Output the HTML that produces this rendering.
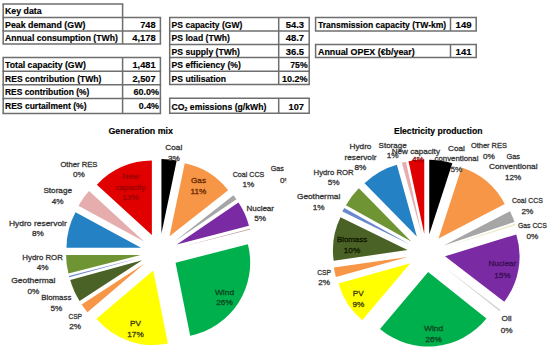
<!DOCTYPE html>
<html><head><meta charset="utf-8"><style>
html,body{margin:0;padding:0;background:#fff;width:550px;height:351px;overflow:hidden}
svg{display:block}
text{font-family:"Liberation Sans",sans-serif}
</style></head><body>
<svg width="550" height="351" viewBox="0 0 550 351" font-family="Liberation Sans, sans-serif">
<rect width="550" height="351" fill="#fff"/>
<line x1="2.45" y1="4.0" x2="123.35" y2="4.0" stroke="#6e6e6e" stroke-width="1.5"/>
<line x1="2.45" y1="17.4" x2="161.15" y2="17.4" stroke="#6e6e6e" stroke-width="1.5"/>
<line x1="2.45" y1="30.9" x2="161.15" y2="30.9" stroke="#6e6e6e" stroke-width="1.5"/>
<line x1="2.45" y1="44.1" x2="161.15" y2="44.1" stroke="#6e6e6e" stroke-width="1.5"/>
<line x1="3.2" y1="4.0" x2="3.2" y2="44.1" stroke="#6e6e6e" stroke-width="1.5"/>
<line x1="122.6" y1="4.0" x2="122.6" y2="44.1" stroke="#6e6e6e" stroke-width="1.5"/>
<line x1="160.4" y1="17.4" x2="160.4" y2="44.1" stroke="#6e6e6e" stroke-width="1.5"/>
<text x="5.0" y="14.00" font-size="8.40" font-weight="bold" text-anchor="start" fill="#000" textLength="36.60" lengthAdjust="spacingAndGlyphs" stroke="#000" stroke-width="0.15">Key data</text>
<text x="5.0" y="28.00" font-size="8.40" font-weight="bold" text-anchor="start" fill="#000" textLength="80.40" lengthAdjust="spacingAndGlyphs" stroke="#000" stroke-width="0.15">Peak demand (GW)</text>
<text x="5.0" y="41.40" font-size="8.40" font-weight="bold" text-anchor="start" fill="#000" textLength="112.80" lengthAdjust="spacingAndGlyphs" stroke="#000" stroke-width="0.15">Annual consumption (TWh)</text>
<text x="155.6" y="28.00" font-size="8.40" font-weight="bold" text-anchor="end" fill="#000" textLength="15.40" lengthAdjust="spacingAndGlyphs" stroke="#000" stroke-width="0.15">748</text>
<text x="155.6" y="41.40" font-size="8.40" font-weight="bold" text-anchor="end" fill="#000" textLength="23.40" lengthAdjust="spacingAndGlyphs" stroke="#000" stroke-width="0.15">4,178</text>
<line x1="2.45" y1="57.6" x2="161.15" y2="57.6" stroke="#6e6e6e" stroke-width="1.5"/>
<line x1="2.45" y1="71.3" x2="161.15" y2="71.3" stroke="#6e6e6e" stroke-width="1.5"/>
<line x1="2.45" y1="84.7" x2="161.15" y2="84.7" stroke="#6e6e6e" stroke-width="1.5"/>
<line x1="2.45" y1="98.4" x2="161.15" y2="98.4" stroke="#6e6e6e" stroke-width="1.5"/>
<line x1="2.45" y1="113.4" x2="161.15" y2="113.4" stroke="#6e6e6e" stroke-width="1.5"/>
<line x1="3.2" y1="57.6" x2="3.2" y2="113.4" stroke="#6e6e6e" stroke-width="1.5"/>
<line x1="122.6" y1="57.6" x2="122.6" y2="113.4" stroke="#6e6e6e" stroke-width="1.5"/>
<line x1="160.4" y1="57.6" x2="160.4" y2="113.4" stroke="#6e6e6e" stroke-width="1.5"/>
<text x="5.0" y="68.30" font-size="8.40" font-weight="bold" text-anchor="start" fill="#000" textLength="80.80" lengthAdjust="spacingAndGlyphs" stroke="#000" stroke-width="0.15">Total capacity (GW)</text>
<text x="5.0" y="81.60" font-size="8.40" font-weight="bold" text-anchor="start" fill="#000" textLength="96.40" lengthAdjust="spacingAndGlyphs" stroke="#000" stroke-width="0.15">RES contribution (TWh)</text>
<text x="5.0" y="95.20" font-size="8.40" font-weight="bold" text-anchor="start" fill="#000" textLength="84.30" lengthAdjust="spacingAndGlyphs" stroke="#000" stroke-width="0.15">RES contribution (%)</text>
<text x="5.0" y="109.30" font-size="8.40" font-weight="bold" text-anchor="start" fill="#000" textLength="81.50" lengthAdjust="spacingAndGlyphs" stroke="#000" stroke-width="0.15">RES curtailment (%)</text>
<text x="155.5" y="68.30" font-size="8.40" font-weight="bold" text-anchor="end" fill="#000" textLength="23.00" lengthAdjust="spacingAndGlyphs" stroke="#000" stroke-width="0.15">1,481</text>
<text x="155.5" y="81.60" font-size="8.40" font-weight="bold" text-anchor="end" fill="#000" textLength="23.00" lengthAdjust="spacingAndGlyphs" stroke="#000" stroke-width="0.15">2,507</text>
<text x="159.0" y="95.20" font-size="8.40" font-weight="bold" text-anchor="end" fill="#000" textLength="25.50" lengthAdjust="spacingAndGlyphs" stroke="#000" stroke-width="0.15">60.0%</text>
<text x="159.0" y="109.30" font-size="8.40" font-weight="bold" text-anchor="end" fill="#000" textLength="20.20" lengthAdjust="spacingAndGlyphs" stroke="#000" stroke-width="0.15">0.4%</text>
<line x1="168.95" y1="17.5" x2="309.95" y2="17.5" stroke="#6e6e6e" stroke-width="1.5"/>
<line x1="168.95" y1="30.9" x2="309.95" y2="30.9" stroke="#6e6e6e" stroke-width="1.5"/>
<line x1="168.95" y1="44.4" x2="309.95" y2="44.4" stroke="#6e6e6e" stroke-width="1.5"/>
<line x1="168.95" y1="57.6" x2="309.95" y2="57.6" stroke="#6e6e6e" stroke-width="1.5"/>
<line x1="168.95" y1="71.2" x2="309.95" y2="71.2" stroke="#6e6e6e" stroke-width="1.5"/>
<line x1="168.95" y1="84.6" x2="309.95" y2="84.6" stroke="#6e6e6e" stroke-width="1.5"/>
<line x1="169.7" y1="17.5" x2="169.7" y2="84.6" stroke="#6e6e6e" stroke-width="1.5"/>
<line x1="278.7" y1="17.5" x2="278.7" y2="84.6" stroke="#6e6e6e" stroke-width="1.5"/>
<line x1="309.2" y1="17.5" x2="309.2" y2="84.6" stroke="#6e6e6e" stroke-width="1.5"/>
<text x="171.6" y="28.10" font-size="8.40" font-weight="bold" text-anchor="start" fill="#000" textLength="70.80" lengthAdjust="spacingAndGlyphs" stroke="#000" stroke-width="0.15">PS capacity (GW)</text>
<text x="171.6" y="41.30" font-size="8.40" font-weight="bold" text-anchor="start" fill="#000" textLength="58.28" lengthAdjust="spacingAndGlyphs" stroke="#000" stroke-width="0.15">PS load (TWh)</text>
<text x="171.6" y="54.70" font-size="8.40" font-weight="bold" text-anchor="start" fill="#000" textLength="68.31" lengthAdjust="spacingAndGlyphs" stroke="#000" stroke-width="0.15">PS supply (TWh)</text>
<text x="171.6" y="68.30" font-size="8.40" font-weight="bold" text-anchor="start" fill="#000" textLength="69.30" lengthAdjust="spacingAndGlyphs" stroke="#000" stroke-width="0.15">PS efficiency (%)</text>
<text x="171.6" y="81.70" font-size="8.40" font-weight="bold" text-anchor="start" fill="#000" textLength="54.47" lengthAdjust="spacingAndGlyphs" stroke="#000" stroke-width="0.15">PS utilisation</text>
<text x="304.0" y="28.10" font-size="8.40" font-weight="bold" text-anchor="end" fill="#000" textLength="18.30" lengthAdjust="spacingAndGlyphs" stroke="#000" stroke-width="0.15">54.3</text>
<text x="304.0" y="41.30" font-size="8.40" font-weight="bold" text-anchor="end" fill="#000" textLength="18.30" lengthAdjust="spacingAndGlyphs" stroke="#000" stroke-width="0.15">48.7</text>
<text x="304.0" y="54.70" font-size="8.40" font-weight="bold" text-anchor="end" fill="#000" textLength="18.30" lengthAdjust="spacingAndGlyphs" stroke="#000" stroke-width="0.15">36.5</text>
<text x="307.6" y="68.30" font-size="8.40" font-weight="bold" text-anchor="end" fill="#000" textLength="17.30" lengthAdjust="spacingAndGlyphs" stroke="#000" stroke-width="0.15">75%</text>
<text x="307.6" y="81.70" font-size="8.40" font-weight="bold" text-anchor="end" fill="#000" textLength="25.70" lengthAdjust="spacingAndGlyphs" stroke="#000" stroke-width="0.15">10.2%</text>
<line x1="168.95" y1="98.3" x2="309.95" y2="98.3" stroke="#6e6e6e" stroke-width="1.5"/>
<line x1="168.95" y1="113.3" x2="309.95" y2="113.3" stroke="#6e6e6e" stroke-width="1.5"/>
<line x1="169.7" y1="98.3" x2="169.7" y2="113.3" stroke="#6e6e6e" stroke-width="1.5"/>
<line x1="278.7" y1="98.3" x2="278.7" y2="113.3" stroke="#6e6e6e" stroke-width="1.5"/>
<line x1="309.2" y1="98.3" x2="309.2" y2="113.3" stroke="#6e6e6e" stroke-width="1.5"/>
<text x="171.6" y="109.5" font-size="8.4" font-weight="bold" fill="#000" stroke="#000" stroke-width="0.15" textLength="94.8" lengthAdjust="spacingAndGlyphs">CO<tspan font-size="5.0" dy="1.5">2</tspan><tspan dy="-1.5"> emissions (g/kWh)</tspan></text>
<text x="304.0" y="109.50" font-size="8.40" font-weight="bold" text-anchor="end" fill="#000" textLength="15.40" lengthAdjust="spacingAndGlyphs" stroke="#000" stroke-width="0.15">107</text>
<line x1="314.85" y1="17.5" x2="476.95" y2="17.5" stroke="#6e6e6e" stroke-width="1.5"/>
<line x1="314.85" y1="30.9" x2="476.95" y2="30.9" stroke="#6e6e6e" stroke-width="1.5"/>
<line x1="315.6" y1="17.5" x2="315.6" y2="30.9" stroke="#6e6e6e" stroke-width="1.5"/>
<line x1="450.5" y1="17.5" x2="450.5" y2="30.9" stroke="#6e6e6e" stroke-width="1.5"/>
<line x1="476.2" y1="17.5" x2="476.2" y2="30.9" stroke="#6e6e6e" stroke-width="1.5"/>
<line x1="314.85" y1="44.5" x2="476.95" y2="44.5" stroke="#6e6e6e" stroke-width="1.5"/>
<line x1="314.85" y1="57.6" x2="476.95" y2="57.6" stroke="#6e6e6e" stroke-width="1.5"/>
<line x1="315.6" y1="44.5" x2="315.6" y2="57.6" stroke="#6e6e6e" stroke-width="1.5"/>
<line x1="450.5" y1="44.5" x2="450.5" y2="57.6" stroke="#6e6e6e" stroke-width="1.5"/>
<line x1="476.2" y1="44.5" x2="476.2" y2="57.6" stroke="#6e6e6e" stroke-width="1.5"/>
<text x="318.0" y="28.10" font-size="8.40" font-weight="bold" text-anchor="start" fill="#000" textLength="128.20" lengthAdjust="spacingAndGlyphs" stroke="#000" stroke-width="0.15">Transmission capacity (TW-km)</text>
<text x="318.0" y="54.60" font-size="8.40" font-weight="bold" text-anchor="start" fill="#000" textLength="96.70" lengthAdjust="spacingAndGlyphs" stroke="#000" stroke-width="0.15">Annual OPEX (€b/year)</text>
<text x="471.6" y="28.10" font-size="8.40" font-weight="bold" text-anchor="end" fill="#000" textLength="16.00" lengthAdjust="spacingAndGlyphs" stroke="#000" stroke-width="0.15">149</text>
<text x="471.6" y="54.60" font-size="8.40" font-weight="bold" text-anchor="end" fill="#000" textLength="16.00" lengthAdjust="spacingAndGlyphs" stroke="#000" stroke-width="0.15">141</text>
<path d="M161.45,233.60 L161.45,159.00 A74.6,74.6 0 0 1 176.71,160.58 Z" fill="#000000"/>
<path d="M169.51,236.35 L184.77,163.33 A74.6,74.6 0 0 1 228.14,190.22 Z" fill="#F79646"/>
<path d="M174.82,241.27 L233.45,195.13 A74.6,74.6 0 0 1 236.45,199.23 Z" fill="#A6A6A6"/>
<path d="M176.79,244.62 L238.42,202.58 A74.6,74.6 0 0 1 248.95,225.69 Z" fill="#7A2BA3"/>
<path d="M177.90,247.76 L250.06,228.83 A74.6,74.6 0 0 1 250.22,229.46 Z" fill="#B09090"/>
<path d="M175.57,262.64 L247.89,244.34 A74.6,74.6 0 0 1 190.19,335.79 Z" fill="#00B04C"/>
<path d="M153.27,270.45 L167.88,343.60 A74.6,74.6 0 0 1 96.46,318.80 Z" fill="#FFFF00"/>
<path d="M144.27,263.85 L87.46,312.20 A74.6,74.6 0 0 1 81.70,304.48 Z" fill="#F79646"/>
<path d="M142.17,260.29 L79.60,300.92 A74.6,74.6 0 0 1 70.25,280.10 Z" fill="#4A6225"/>
<path d="M141.14,257.39 L69.22,277.20 A74.6,74.6 0 0 1 68.88,275.94 Z" fill="#6A88CC"/>
<path d="M140.65,254.88 L68.39,273.43 A74.6,74.6 0 0 1 66.05,254.88 Z" fill="#6F9434"/>
<path d="M141.08,247.82 L66.48,247.82 A74.6,74.6 0 0 1 75.52,212.23 Z" fill="#2481C4"/>
<path d="M144.03,241.47 L78.47,205.87 A74.6,74.6 0 0 1 89.03,191.07 Z" fill="#E5ADAD"/>
<path d="M151.85,235.11 L96.85,184.71 A74.6,74.6 0 0 1 151.85,160.51 Z" fill="#E00000"/>
<path d="M429.27,234.23 L429.27,159.63 A74.6,74.6 0 0 1 452.32,163.29 Z" fill="#000000"/>
<path d="M438.58,238.50 L461.63,167.55 A74.6,74.6 0 0 1 504.75,204.05 Z" fill="#F79646"/>
<path d="M443.79,245.58 L509.96,211.13 A74.6,74.6 0 0 1 514.53,221.91 Z" fill="#A6A6A6"/>
<path d="M444.39,247.19 L515.14,223.52 A74.6,74.6 0 0 1 515.69,225.26 Z" fill="#EEEACC"/>
<path d="M445.00,256.35 L516.30,234.41 A74.6,74.6 0 0 1 504.27,301.66 Z" fill="#7A2BA3"/>
<path d="M441.27,264.70 L500.54,310.01 A74.6,74.6 0 0 1 499.57,311.24 Z" fill="#D8D0D0"/>
<path d="M428.15,271.91 L486.46,318.45 A74.6,74.6 0 0 1 380.00,328.89 Z" fill="#00B04C"/>
<path d="M410.32,263.28 L362.17,320.26 A74.6,74.6 0 0 1 338.50,283.47 Z" fill="#FFFF00"/>
<path d="M407.71,256.93 L335.89,277.12 A74.6,74.6 0 0 1 333.87,267.57 Z" fill="#F79646"/>
<path d="M407.53,250.06 L333.69,260.70 A74.6,74.6 0 0 1 340.48,217.36 Z" fill="#4A6225"/>
<path d="M409.45,244.23 L342.40,211.52 A74.6,74.6 0 0 1 344.20,208.06 Z" fill="#6A88CC"/>
<path d="M411.18,241.50 L345.93,205.33 A74.6,74.6 0 0 1 358.89,188.29 Z" fill="#6F9434"/>
<path d="M416.80,236.55 L364.51,183.34 A74.6,74.6 0 0 1 396.86,164.66 Z" fill="#2481C4"/>
<path d="M421.75,234.55 L401.82,162.67 A74.6,74.6 0 0 1 405.99,161.64 Z" fill="#E5ADAD"/>
<path d="M424.28,234.11 L408.52,161.19 A74.6,74.6 0 0 1 424.28,159.51 Z" fill="#E00000"/>
<text x="140.7" y="133.90" font-size="8.60" font-weight="bold" text-anchor="middle" fill="#000" textLength="64.50" lengthAdjust="spacingAndGlyphs" stroke="#000" stroke-width="0.15">Generation mix</text>
<text x="438.2" y="133.90" font-size="8.60" font-weight="bold" text-anchor="middle" fill="#000" textLength="88.50" lengthAdjust="spacingAndGlyphs" stroke="#000" stroke-width="0.15">Electricity production</text>
<text x="78.9" y="166.60" font-size="8.00" font-weight="normal" text-anchor="middle" fill="#363636" textLength="37.00" lengthAdjust="spacingAndGlyphs" stroke="#363636" stroke-width="0.3">Other RES</text>
<text x="78.9" y="177.40" font-size="8.00" font-weight="normal" text-anchor="middle" fill="#363636" textLength="11.85" lengthAdjust="spacingAndGlyphs" stroke="#363636" stroke-width="0.3">0%</text>
<text x="130.5" y="179.00" font-size="8.00" font-weight="normal" text-anchor="middle" fill="#A00000" textLength="16.40" lengthAdjust="spacingAndGlyphs" stroke="#A00000" stroke-width="0.3">New</text>
<text x="130.5" y="189.60" font-size="8.00" font-weight="normal" text-anchor="middle" fill="#A00000" textLength="30.08" lengthAdjust="spacingAndGlyphs" stroke="#A00000" stroke-width="0.3">capacity</text>
<text x="130.5" y="200.20" font-size="8.00" font-weight="normal" text-anchor="middle" fill="#A00000" textLength="16.41" lengthAdjust="spacingAndGlyphs" stroke="#A00000" stroke-width="0.3">13%</text>
<text x="173.8" y="150.40" font-size="8.00" font-weight="normal" text-anchor="middle" fill="#363636" textLength="16.86" lengthAdjust="spacingAndGlyphs" stroke="#363636" stroke-width="0.3">Coal</text>
<text x="173.8" y="161.20" font-size="8.00" font-weight="normal" text-anchor="middle" fill="#363636" textLength="11.85" lengthAdjust="spacingAndGlyphs" stroke="#363636" stroke-width="0.3">3%</text>
<text x="198.5" y="182.80" font-size="8.00" font-weight="normal" text-anchor="middle" fill="#6B2A00" textLength="15.04" lengthAdjust="spacingAndGlyphs" stroke="#6B2A00" stroke-width="0.3">Gas</text>
<text x="198.5" y="193.50" font-size="8.00" font-weight="normal" text-anchor="middle" fill="#6B2A00" textLength="15.80" lengthAdjust="spacingAndGlyphs" stroke="#6B2A00" stroke-width="0.3">11%</text>
<text x="248.5" y="176.60" font-size="8.00" font-weight="normal" text-anchor="middle" fill="#363636" textLength="31.60" lengthAdjust="spacingAndGlyphs" stroke="#363636" stroke-width="0.3">Coal CCS</text>
<text x="248.5" y="187.40" font-size="8.00" font-weight="normal" text-anchor="middle" fill="#363636" textLength="11.85" lengthAdjust="spacingAndGlyphs" stroke="#363636" stroke-width="0.3">1%</text>
<text x="277.3" y="171.40" font-size="8.00" font-weight="normal" text-anchor="middle" fill="#363636" textLength="13.20" lengthAdjust="spacingAndGlyphs" stroke="#363636" stroke-width="0.3">Gas</text>
<clipPath id="cg"><rect x="0" y="0" width="286.3" height="351"/></clipPath>
<text x="280.0" y="183.00" font-size="8.00" font-weight="normal" text-anchor="start" fill="#363636" textLength="11.85" lengthAdjust="spacingAndGlyphs" clip-path="url(#cg)" stroke="#363636" stroke-width="0.3">0%</text>
<text x="260.2" y="210.50" font-size="8.00" font-weight="normal" text-anchor="middle" fill="#363636" textLength="27.60" lengthAdjust="spacingAndGlyphs" stroke="#363636" stroke-width="0.3">Nuclear</text>
<text x="260.2" y="221.30" font-size="8.00" font-weight="normal" text-anchor="middle" fill="#363636" textLength="11.85" lengthAdjust="spacingAndGlyphs" stroke="#363636" stroke-width="0.3">5%</text>
<text x="57.7" y="192.90" font-size="8.00" font-weight="normal" text-anchor="middle" fill="#363636" textLength="28.60" lengthAdjust="spacingAndGlyphs" stroke="#363636" stroke-width="0.3">Storage</text>
<text x="57.7" y="203.70" font-size="8.00" font-weight="normal" text-anchor="middle" fill="#363636" textLength="11.85" lengthAdjust="spacingAndGlyphs" stroke="#363636" stroke-width="0.3">4%</text>
<text x="37.9" y="225.60" font-size="8.00" font-weight="normal" text-anchor="middle" fill="#363636" textLength="57.80" lengthAdjust="spacingAndGlyphs" stroke="#363636" stroke-width="0.3">Hydro reservoir</text>
<text x="37.9" y="236.40" font-size="8.00" font-weight="normal" text-anchor="middle" fill="#363636" textLength="11.85" lengthAdjust="spacingAndGlyphs" stroke="#363636" stroke-width="0.3">8%</text>
<text x="42.6" y="259.60" font-size="8.00" font-weight="normal" text-anchor="middle" fill="#363636" textLength="40.60" lengthAdjust="spacingAndGlyphs" stroke="#363636" stroke-width="0.3">Hydro ROR</text>
<text x="42.6" y="270.40" font-size="8.00" font-weight="normal" text-anchor="middle" fill="#363636" textLength="11.85" lengthAdjust="spacingAndGlyphs" stroke="#363636" stroke-width="0.3">4%</text>
<text x="33.3" y="282.90" font-size="8.00" font-weight="normal" text-anchor="middle" fill="#363636" textLength="44.30" lengthAdjust="spacingAndGlyphs" stroke="#363636" stroke-width="0.3">Geothermal</text>
<text x="33.3" y="293.70" font-size="8.00" font-weight="normal" text-anchor="middle" fill="#363636" textLength="11.85" lengthAdjust="spacingAndGlyphs" stroke="#363636" stroke-width="0.3">0%</text>
<text x="56.3" y="300.40" font-size="8.00" font-weight="normal" text-anchor="middle" fill="#363636" textLength="30.20" lengthAdjust="spacingAndGlyphs" stroke="#363636" stroke-width="0.3">Biomass</text>
<text x="56.3" y="311.20" font-size="8.00" font-weight="normal" text-anchor="middle" fill="#363636" textLength="11.85" lengthAdjust="spacingAndGlyphs" stroke="#363636" stroke-width="0.3">5%</text>
<text x="75.2" y="318.50" font-size="8.00" font-weight="normal" text-anchor="middle" fill="#363636" textLength="13.60" lengthAdjust="spacingAndGlyphs" stroke="#363636" stroke-width="0.3">CSP</text>
<text x="75.2" y="329.30" font-size="8.00" font-weight="normal" text-anchor="middle" fill="#363636" textLength="11.85" lengthAdjust="spacingAndGlyphs" stroke="#363636" stroke-width="0.3">2%</text>
<text x="135.5" y="326.40" font-size="8.00" font-weight="normal" text-anchor="middle" fill="#404000" textLength="10.94" lengthAdjust="spacingAndGlyphs" stroke="#404000" stroke-width="0.3">PV</text>
<text x="135.5" y="337.20" font-size="8.00" font-weight="normal" text-anchor="middle" fill="#404000" textLength="16.41" lengthAdjust="spacingAndGlyphs" stroke="#404000" stroke-width="0.3">17%</text>
<text x="224.5" y="294.60" font-size="8.00" font-weight="normal" text-anchor="middle" fill="#0A4A20" textLength="19.20" lengthAdjust="spacingAndGlyphs" stroke="#0A4A20" stroke-width="0.3">Wind</text>
<text x="224.5" y="305.40" font-size="8.00" font-weight="normal" text-anchor="middle" fill="#0A4A20" textLength="16.41" lengthAdjust="spacingAndGlyphs" stroke="#0A4A20" stroke-width="0.3">26%</text>
<text x="360.5" y="149.10" font-size="8.00" font-weight="normal" text-anchor="middle" fill="#363636" textLength="21.87" lengthAdjust="spacingAndGlyphs" stroke="#363636" stroke-width="0.3">Hydro</text>
<text x="360.5" y="159.60" font-size="8.00" font-weight="normal" text-anchor="middle" fill="#363636" textLength="31.89" lengthAdjust="spacingAndGlyphs" stroke="#363636" stroke-width="0.3">reservoir</text>
<text x="360.5" y="170.10" font-size="8.00" font-weight="normal" text-anchor="middle" fill="#363636" textLength="11.85" lengthAdjust="spacingAndGlyphs" stroke="#363636" stroke-width="0.3">8%</text>
<text x="392.6" y="147.80" font-size="8.00" font-weight="normal" text-anchor="middle" fill="#363636" textLength="28.00" lengthAdjust="spacingAndGlyphs" stroke="#363636" stroke-width="0.3">Storage</text>
<text x="392.6" y="158.30" font-size="8.00" font-weight="normal" text-anchor="middle" fill="#363636" textLength="11.85" lengthAdjust="spacingAndGlyphs" stroke="#363636" stroke-width="0.3">1%</text>
<text x="415.8" y="153.60" font-size="8.00" font-weight="normal" text-anchor="middle" fill="#363636" textLength="48.30" lengthAdjust="spacingAndGlyphs" stroke="#363636" stroke-width="0.3">New capacity</text>
<text x="418.0" y="162.00" font-size="8.00" font-weight="normal" text-anchor="middle" fill="#900000" textLength="11.85" lengthAdjust="spacingAndGlyphs" stroke="#900000" stroke-width="0.3">4%</text>
<text x="456.5" y="150.80" font-size="8.00" font-weight="normal" text-anchor="middle" fill="#363636" textLength="16.86" lengthAdjust="spacingAndGlyphs" stroke="#363636" stroke-width="0.3">Coal</text>
<text x="456.5" y="161.10" font-size="8.00" font-weight="normal" text-anchor="middle" fill="#363636" textLength="43.80" lengthAdjust="spacingAndGlyphs" stroke="#363636" stroke-width="0.3">conventional</text>
<text x="456.3" y="171.60" font-size="8.00" font-weight="normal" text-anchor="middle" fill="#404040" textLength="11.85" lengthAdjust="spacingAndGlyphs" stroke="#404040" stroke-width="0.3">5%</text>
<text x="488.9" y="148.20" font-size="8.00" font-weight="normal" text-anchor="middle" fill="#363636" textLength="36.00" lengthAdjust="spacingAndGlyphs" stroke="#363636" stroke-width="0.3">Other RES</text>
<text x="488.9" y="159.10" font-size="8.00" font-weight="normal" text-anchor="middle" fill="#363636" textLength="11.85" lengthAdjust="spacingAndGlyphs" stroke="#363636" stroke-width="0.3">0%</text>
<text x="513.2" y="158.50" font-size="8.00" font-weight="normal" text-anchor="middle" fill="#363636" textLength="13.60" lengthAdjust="spacingAndGlyphs" stroke="#363636" stroke-width="0.3">Gas</text>
<text x="513.2" y="169.30" font-size="8.00" font-weight="normal" text-anchor="middle" fill="#363636" textLength="48.60" lengthAdjust="spacingAndGlyphs" stroke="#363636" stroke-width="0.3">Conventional</text>
<text x="513.2" y="180.10" font-size="8.00" font-weight="normal" text-anchor="middle" fill="#363636" textLength="16.41" lengthAdjust="spacingAndGlyphs" stroke="#363636" stroke-width="0.3">12%</text>
<text x="527.4" y="202.60" font-size="8.00" font-weight="normal" text-anchor="middle" fill="#363636" textLength="30.80" lengthAdjust="spacingAndGlyphs" stroke="#363636" stroke-width="0.3">Coal CCS</text>
<text x="527.4" y="213.60" font-size="8.00" font-weight="normal" text-anchor="middle" fill="#363636" textLength="11.85" lengthAdjust="spacingAndGlyphs" stroke="#363636" stroke-width="0.3">2%</text>
<text x="532.4" y="227.70" font-size="8.00" font-weight="normal" text-anchor="middle" fill="#363636" textLength="29.00" lengthAdjust="spacingAndGlyphs" stroke="#363636" stroke-width="0.3">Gas CCS</text>
<text x="532.4" y="238.60" font-size="8.00" font-weight="normal" text-anchor="middle" fill="#363636" textLength="11.85" lengthAdjust="spacingAndGlyphs" stroke="#363636" stroke-width="0.3">0%</text>
<text x="502.4" y="266.20" font-size="8.00" font-weight="normal" text-anchor="middle" fill="#3A0F55" textLength="27.80" lengthAdjust="spacingAndGlyphs" stroke="#3A0F55" stroke-width="0.3">Nuclear</text>
<text x="502.4" y="277.50" font-size="8.00" font-weight="normal" text-anchor="middle" fill="#3A0F55" textLength="16.41" lengthAdjust="spacingAndGlyphs" stroke="#3A0F55" stroke-width="0.3">15%</text>
<text x="506.6" y="321.20" font-size="8.00" font-weight="normal" text-anchor="middle" fill="#363636" textLength="10.02" lengthAdjust="spacingAndGlyphs" stroke="#363636" stroke-width="0.3">Oil</text>
<text x="506.6" y="332.50" font-size="8.00" font-weight="normal" text-anchor="middle" fill="#363636" textLength="11.85" lengthAdjust="spacingAndGlyphs" stroke="#363636" stroke-width="0.3">0%</text>
<text x="433.6" y="330.80" font-size="8.00" font-weight="normal" text-anchor="middle" fill="#0A4A20" textLength="19.20" lengthAdjust="spacingAndGlyphs" stroke="#0A4A20" stroke-width="0.3">Wind</text>
<text x="433.6" y="341.50" font-size="8.00" font-weight="normal" text-anchor="middle" fill="#0A4A20" textLength="16.41" lengthAdjust="spacingAndGlyphs" stroke="#0A4A20" stroke-width="0.3">26%</text>
<text x="358.3" y="295.50" font-size="8.00" font-weight="normal" text-anchor="middle" fill="#404000" textLength="10.94" lengthAdjust="spacingAndGlyphs" stroke="#404000" stroke-width="0.3">PV</text>
<text x="358.3" y="306.80" font-size="8.00" font-weight="normal" text-anchor="middle" fill="#404000" textLength="11.85" lengthAdjust="spacingAndGlyphs" stroke="#404000" stroke-width="0.3">9%</text>
<text x="324.1" y="274.70" font-size="8.00" font-weight="normal" text-anchor="middle" fill="#363636" textLength="13.80" lengthAdjust="spacingAndGlyphs" stroke="#363636" stroke-width="0.3">CSP</text>
<text x="324.1" y="285.10" font-size="8.00" font-weight="normal" text-anchor="middle" fill="#363636" textLength="11.85" lengthAdjust="spacingAndGlyphs" stroke="#363636" stroke-width="0.3">2%</text>
<text x="352.0" y="242.20" font-size="8.00" font-weight="normal" text-anchor="middle" fill="#101800" textLength="30.20" lengthAdjust="spacingAndGlyphs" stroke="#101800" stroke-width="0.3">Biomass</text>
<text x="352.0" y="252.80" font-size="8.00" font-weight="normal" text-anchor="middle" fill="#101800" textLength="16.41" lengthAdjust="spacingAndGlyphs" stroke="#101800" stroke-width="0.3">10%</text>
<text x="318.6" y="198.50" font-size="8.00" font-weight="normal" text-anchor="middle" fill="#363636" textLength="43.30" lengthAdjust="spacingAndGlyphs" stroke="#363636" stroke-width="0.3">Geothermal</text>
<text x="318.6" y="209.50" font-size="8.00" font-weight="normal" text-anchor="middle" fill="#363636" textLength="11.85" lengthAdjust="spacingAndGlyphs" stroke="#363636" stroke-width="0.3">1%</text>
<text x="333.6" y="174.50" font-size="8.00" font-weight="normal" text-anchor="middle" fill="#363636" textLength="40.00" lengthAdjust="spacingAndGlyphs" stroke="#363636" stroke-width="0.3">Hydro ROR</text>
<text x="333.6" y="185.30" font-size="8.00" font-weight="normal" text-anchor="middle" fill="#363636" textLength="11.85" lengthAdjust="spacingAndGlyphs" stroke="#363636" stroke-width="0.3">5%</text>
</svg>
</body></html>
